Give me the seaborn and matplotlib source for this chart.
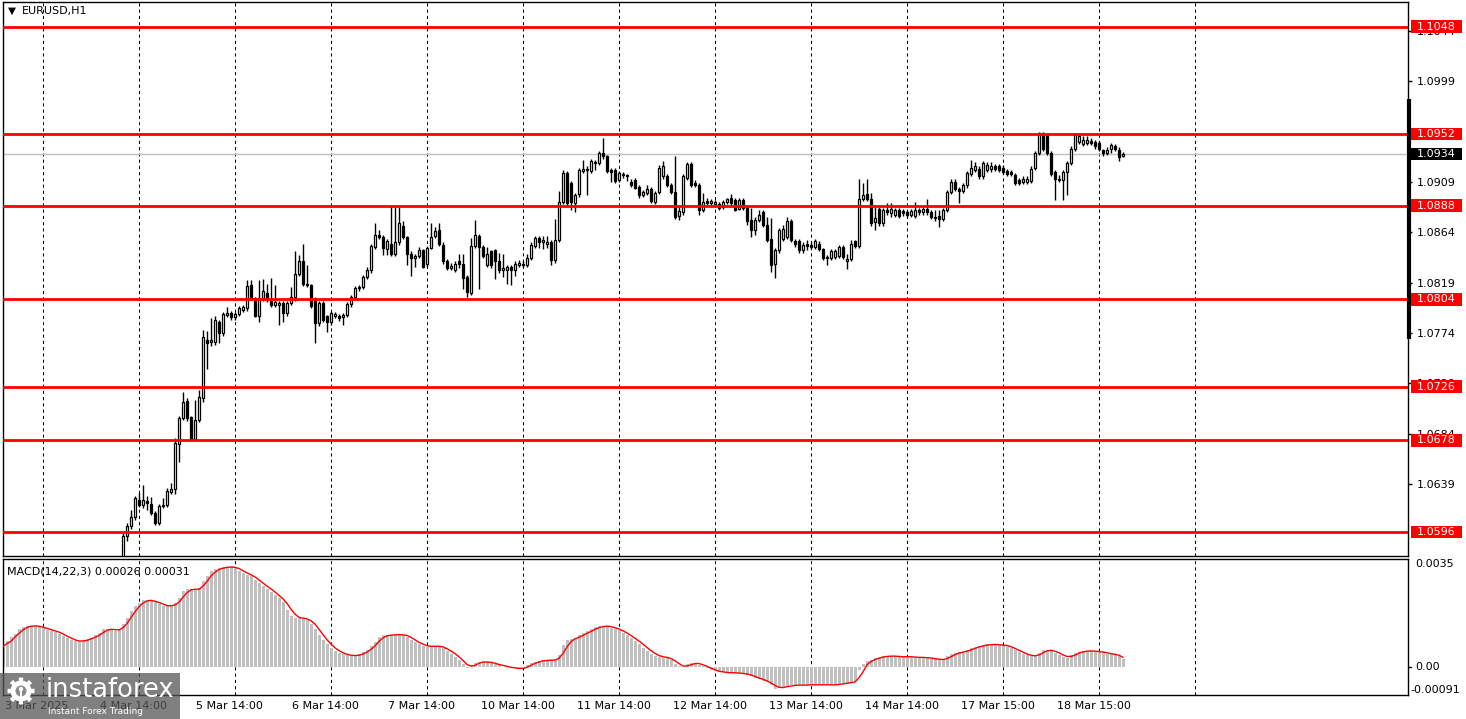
import numpy as np
import matplotlib
matplotlib.use("Agg")
import matplotlib.pyplot as plt
import matplotlib.transforms as mtransforms
from matplotlib.patches import Rectangle, Circle, Polygon
import seaborn as sns

sns.set_style("white")
plt.rcParams['font.family'] = ['DejaVu Sans']

# ------------------------------------------------------------------
# data (prices in 1e-4 units, one candle per hour, first visible bar = 30)
# ------------------------------------------------------------------
first_bar = 30
opens = [
    10555, 10592, 10601, 10609, 10625, 10620, 10624, 10621, 10613, 10604, 10619, 10620,
    10632, 10634, 10675, 10698, 10713, 10699, 10679, 10696, 10716, 10768, 10766, 10766,
    10784, 10774, 10790, 10792, 10788, 10791, 10795, 10796, 10817, 10805, 10789, 10805,
    10810, 10803, 10799, 10799, 10801, 10792, 10801, 10806, 10827, 10838, 10818, 10817,
    10804, 10783, 10801, 10789, 10784, 10789, 10789, 10788, 10790, 10800, 10806, 10814,
    10815, 10824, 10830, 10851, 10862, 10860, 10849, 10854, 10845, 10855, 10870, 10860,
    10845, 10841, 10843, 10848, 10836, 10850, 10861, 10866, 10853, 10838, 10832, 10830,
    10838, 10836, 10824, 10810, 10852, 10861, 10851, 10835, 10847, 10848, 10838, 10830,
    10830, 10833, 10830, 10835, 10836, 10835, 10841, 10852, 10859, 10855, 10854, 10855,
    10839, 10857, 10891, 10917, 10908, 10890, 10898, 10919, 10920, 10919, 10926, 10926,
    10935, 10932, 10920, 10920, 10911, 10915, 10915, 10909, 10911, 10905, 10897, 10899,
    10903, 10891, 10900, 10914, 10914, 10906, 10900, 10879, 10882, 10913, 10925, 10908,
    10906, 10884, 10892, 10890, 10889, 10889, 10887, 10891, 10895, 10893, 10885, 10893,
    10886, 10875, 10866, 10875, 10882, 10871, 10858, 10836, 10848, 10858, 10860, 10874,
    10856, 10856, 10848, 10854, 10853, 10851, 10854, 10849, 10842, 10841, 10842, 10843,
    10851, 10838, 10840, 10856, 10852, 10894, 10898, 10894, 10873, 10885, 10872, 10884,
    10881, 10880, 10884, 10883, 10882, 10880, 10879, 10884, 10882, 10885, 10882, 10878,
    10879, 10876, 10884, 10900, 10909, 10903, 10901, 10906, 10916, 10920, 10921, 10914,
    10920, 10921, 10923, 10923, 10922, 10919, 10918, 10915, 10911, 10909, 10909, 10910,
    10922, 10935, 10953, 10951, 10935, 10918, 10911, 10911, 10918, 10926, 10939, 10945,
    10943, 10944, 10946, 10945, 10944, 10938, 10935, 10939, 10941, 10938, 10932,
]
highs = [
    10595, 10604, 10616, 10628, 10631, 10638, 10628, 10627, 10615, 10621, 10626, 10635,
    10640, 10680, 10700, 10721, 10716, 10700, 10714, 10723, 10777, 10776, 10787, 10789,
    10786, 10793, 10797, 10794, 10793, 10798, 10799, 10821, 10821, 10806, 10821, 10822,
    10818, 10823, 10817, 10803, 10803, 10803, 10815, 10847, 10844, 10854, 10835, 10818,
    10806, 10803, 10803, 10790, 10794, 10793, 10791, 10792, 10802, 10808, 10816, 10817,
    10826, 10833, 10854, 10872, 10866, 10862, 10858, 10888, 10887, 10887, 10874, 10861,
    10847, 10845, 10851, 10849, 10852, 10872, 10869, 10872, 10855, 10840, 10837, 10838,
    10845, 10845, 10826, 10859, 10875, 10863, 10853, 10851, 10848, 10849, 10846, 10845,
    10835, 10835, 10838, 10839, 10838, 10845, 10855, 10861, 10861, 10861, 10861, 10857,
    10876, 10901, 10920, 10919, 10910, 10899, 10922, 10929, 10923, 10930, 10929, 10937,
    10948, 10933, 10922, 10922, 10919, 10918, 10916, 10912, 10913, 10906, 10902, 10906,
    10905, 10901, 10924, 10928, 10916, 10908, 10932, 10888, 10916, 10927, 10927, 10911,
    10908, 10899, 10895, 10894, 10893, 10891, 10893, 10895, 10898, 10895, 10895, 10895,
    10888, 10886, 10878, 10884, 10884, 10878, 10877, 10850, 10868, 10871, 10878, 10876,
    10858, 10858, 10855, 10857, 10855, 10858, 10856, 10850, 10844, 10849, 10849, 10853,
    10853, 10845, 10857, 10857, 10912, 10908, 10912, 10899, 10887, 10887, 10886, 10890,
    10890, 10886, 10886, 10885, 10884, 10885, 10891, 10886, 10887, 10894, 10884, 10884,
    10884, 10886, 10902, 10912, 10912, 10905, 10908, 10919, 10929, 10927, 10923, 10928,
    10927, 10927, 10925, 10925, 10924, 10921, 10920, 10917, 10913, 10914, 10914, 10923,
    10937, 10954, 10954, 10953, 10937, 10920, 10915, 10920, 10928, 10941, 10953, 10952,
    10950, 10950, 10948, 10947, 10946, 10939, 10940, 10944, 10943, 10940, 10936,
]
lows = [
    10550, 10588, 10599, 10607, 10618, 10617, 10616, 10611, 10602, 10602, 10617, 10618,
    10630, 10630, 10659, 10696, 10695, 10677, 10677, 10694, 10712, 10742, 10762, 10763,
    10765, 10771, 10788, 10786, 10786, 10789, 10793, 10794, 10804, 10788, 10784, 10803,
    10802, 10797, 10797, 10781, 10784, 10789, 10799, 10803, 10825, 10816, 10815, 10796,
    10765, 10780, 10784, 10775, 10781, 10787, 10785, 10781, 10788, 10797, 10804, 10812,
    10813, 10822, 10828, 10849, 10858, 10844, 10844, 10843, 10843, 10853, 10858, 10835,
    10825, 10833, 10841, 10832, 10833, 10849, 10859, 10852, 10836, 10830, 10830, 10829,
    10832, 10813, 10806, 10808, 10850, 10813, 10841, 10833, 10832, 10822, 10828, 10824,
    10818, 10817, 10825, 10833, 10833, 10833, 10839, 10850, 10850, 10849, 10850, 10835,
    10837, 10855, 10889, 10888, 10884, 10882, 10896, 10917, 10897, 10917, 10920, 10924,
    10930, 10917, 10909, 10908, 10909, 10913, 10910, 10905, 10903, 10895, 10896, 10897,
    10890, 10889, 10898, 10912, 10905, 10898, 10876, 10875, 10880, 10911, 10905, 10905,
    10880, 10882, 10888, 10888, 10887, 10884, 10885, 10889, 10888, 10883, 10884, 10884,
    10871, 10860, 10862, 10873, 10869, 10855, 10829, 10823, 10846, 10856, 10858, 10855,
    10851, 10846, 10846, 10848, 10849, 10849, 10847, 10839, 10835, 10839, 10840, 10841,
    10840, 10831, 10838, 10850, 10850, 10892, 10892, 10870, 10866, 10870, 10870, 10880,
    10878, 10878, 10877, 10879, 10878, 10878, 10877, 10880, 10880, 10880, 10876, 10874,
    10869, 10874, 10882, 10898, 10901, 10890, 10899, 10904, 10914, 10918, 10912, 10912,
    10918, 10918, 10919, 10918, 10916, 10914, 10914, 10906, 10906, 10907, 10907, 10908,
    10920, 10933, 10937, 10933, 10914, 10893, 10909, 10893, 10897, 10924, 10937, 10943,
    10941, 10942, 10942, 10939, 10937, 10932, 10933, 10935, 10937, 10928, 10931,
]
closes = [
    10592, 10601, 10609, 10626, 10620, 10625, 10622, 10613, 10604, 10619, 10620, 10633,
    10634, 10676, 10698, 10712, 10698, 10679, 10696, 10717, 10770, 10765, 10768, 10786,
    10774, 10791, 10792, 10788, 10791, 10796, 10797, 10816, 10806, 10789, 10805, 10812,
    10804, 10799, 10802, 10801, 10792, 10801, 10806, 10827, 10838, 10818, 10817, 10798,
    10783, 10801, 10786, 10784, 10792, 10791, 10787, 10790, 10800, 10806, 10814, 10815,
    10824, 10830, 10852, 10862, 10860, 10850, 10856, 10845, 10855, 10872, 10860, 10845,
    10841, 10843, 10848, 10833, 10850, 10860, 10865, 10854, 10838, 10832, 10834, 10836,
    10836, 10823, 10811, 10852, 10862, 10851, 10843, 10845, 10835, 10838, 10830, 10832,
    10833, 10830, 10836, 10837, 10835, 10841, 10853, 10859, 10855, 10857, 10855, 10839,
    10857, 10891, 10917, 10890, 10891, 10897, 10920, 10921, 10921, 10928, 10927, 10935,
    10932, 10919, 10918, 10910, 10917, 10916, 10914, 10906, 10904, 10897, 10900, 10903,
    10892, 10899, 10922, 10923, 10906, 10900, 10878, 10883, 10914, 10925, 10906, 10906,
    10884, 10891, 10890, 10892, 10891, 10886, 10891, 10894, 10890, 10884, 10893, 10886,
    10874, 10866, 10875, 10880, 10871, 10857, 10835, 10848, 10866, 10867, 10874, 10857,
    10854, 10848, 10853, 10852, 10851, 10856, 10849, 10841, 10841, 10847, 10847, 10851,
    10842, 10840, 10854, 10852, 10894, 10897, 10894, 10872, 10877, 10872, 10884, 10882,
    10885, 10884, 10879, 10881, 10880, 10883, 10884, 10882, 10885, 10882, 10878, 10877,
    10876, 10884, 10900, 10909, 10903, 10901, 10906, 10917, 10922, 10923, 10914, 10926,
    10924, 10923, 10921, 10920, 10918, 10916, 10916, 10908, 10908, 10912, 10912, 10921,
    10935, 10953, 10939, 10935, 10916, 10912, 10912, 10918, 10926, 10939, 10951, 10950,
    10947, 10947, 10944, 10941, 10939, 10935, 10938, 10942, 10939, 10931, 10934,
]

# MACD(14,22,3) main (histogram) and signal, 1e-5 units, bars 0..280
macd_main = [
    66, 85, 98, 108, 122, 130, 133, 134, 132, 130, 125, 121, 118, 113, 107, 100, 94, 88, 83, 82,
    86, 91, 95, 102, 110, 122, 124, 121, 118, 122, 140, 160, 180, 198, 208, 216, 217, 214, 209, 203,
    199, 196, 198, 208, 225, 245, 254, 252, 249, 256, 280, 295, 310, 316, 321, 324, 325, 324, 320, 312,
    304, 299, 294, 282, 271, 262, 254, 243, 232, 222, 210, 186, 166, 160, 158, 157, 152, 140, 124, 102,
    88, 73, 62, 51, 45, 41, 38, 36, 38, 41, 47, 55, 68, 82, 98, 103, 103, 104, 105, 105,
    103, 97, 88, 80, 73, 68, 65, 67, 69, 65, 60, 52, 43, 33, 22, 8, -5, 6, 13, 17,
    17, 15, 12, 8, 5, 1, -1, -3, -5, -7, -3, 6, 12, 17, 20, 22, 22, 21, 23, 40,
    70, 86, 91, 95, 102, 109, 115, 122, 128, 132, 134, 131, 127, 123, 119, 110, 102, 94, 84, 74,
    63, 52, 43, 36, 32, 30, 30, 22, 8, 2, 0, 8, 14, 12, 7, 3, -4, -10, -14, -17,
    -18, -19, -19, -20, -21, -22, -26, -31, -36, -40, -45, -50, -60, -70, -67, -64, -62, -60, -59, -59,
    -59, -58, -58, -59, -58, -57, -58, -59, -57, -55, -52, -51, -49, -47, -10, 10, 20, 24, 28, 32,
    35, 36, 35, 34, 33, 33, 33, 32, 31, 31, 30, 29, 27, 25, 23, 25, 34, 41, 45, 48,
    50, 54, 60, 65, 69, 71, 73, 73, 72, 71, 70, 66, 61, 54, 47, 42, 38, 34, 36, 46,
    55, 55, 53, 46, 39, 33, 30, 38, 46, 50, 52, 52, 51, 50, 49, 46, 43, 41, 39, 34,
    26,
]
macd_signal = [
    66, 76, 83, 97, 109, 120, 128, 132, 133, 132, 129, 125, 121, 117, 113, 107, 100, 94, 88, 84,
    84, 86, 91, 96, 102, 111, 119, 122, 121, 120, 127, 141, 160, 179, 195, 207, 214, 216, 213, 209,
    204, 199, 198, 201, 210, 226, 241, 250, 252, 252, 262, 277, 295, 307, 316, 320, 323, 324, 323, 319,
    312, 305, 299, 292, 282, 272, 262, 253, 243, 232, 221, 206, 187, 171, 161, 158, 156, 150, 139, 122,
    105, 88, 74, 62, 53, 46, 41, 38, 37, 38, 42, 48, 57, 68, 83, 94, 101, 103, 104, 105,
    104, 102, 96, 88, 80, 74, 69, 67, 67, 67, 65, 59, 52, 43, 33, 21, 8, 3, 5, 12,
    16, 16, 15, 12, 8, 5, 2, -1, -3, -5, -5, -1, 5, 12, 16, 20, 21, 22, 22, 28,
    44, 65, 82, 91, 96, 102, 109, 115, 122, 127, 131, 132, 131, 127, 123, 117, 110, 102, 93, 84,
    74, 63, 53, 44, 37, 33, 31, 27, 20, 11, 3, 3, 7, 11, 11, 7, 2, -4, -9, -14,
    -16, -18, -19, -19, -20, -21, -23, -26, -31, -36, -40, -45, -52, -60, -66, -67, -64, -62, -60, -59,
    -59, -59, -58, -58, -58, -58, -58, -58, -58, -57, -55, -53, -51, -49, -35, -16, 7, 18, 24, 28,
    32, 34, 35, 35, 34, 33, 33, 33, 32, 31, 31, 30, 29, 27, 25, 24, 27, 33, 40, 45,
    48, 51, 55, 60, 65, 68, 71, 72, 73, 72, 71, 69, 66, 60, 54, 48, 42, 38, 36, 39,
    46, 52, 54, 51, 46, 39, 34, 34, 38, 45, 49, 51, 52, 51, 50, 48, 46, 43, 41, 38,
    31,
]

levels = [1.1048, 1.0952, 1.0888, 1.0804, 1.0726, 1.0678, 1.0596]
price_ticks = [1.1044, 1.0999, 1.0909, 1.0864, 1.0819, 1.0774,
               1.0729, 1.0684, 1.0639]
last_price = 1.0934
grid_bars = [10, 34, 58, 82, 106, 130, 154, 178, 202, 226, 250, 274, 298]
date_labels = ["3 Mar 2025", "4 Mar 14:00", "5 Mar 14:00", "6 Mar 14:00", "7 Mar 14:00",
               "10 Mar 14:00", "11 Mar 14:00", "12 Mar 14:00", "13 Mar 14:00",
               "14 Mar 14:00", "17 Mar 15:00", "18 Mar 15:00"]

# ------------------------------------------------------------------
# layout in pixels
# ------------------------------------------------------------------
W, H = 1466, 719
fig = plt.figure(figsize=(W / 100, H / 100), dpi=100)
fig.patch.set_facecolor("white")
ax = fig.add_axes([3 / W, 1 - 556 / H, 1405 / W, 554 / H])
ax2 = fig.add_axes([3 / W, 1 - 695 / H, 1405 / W, 136 / H])

xmax = 1405 / 4
for a in (ax, ax2):
    a.set_xlim(0, xmax)
    a.set_facecolor("white")
    for s in a.spines.values():
        s.set_color("black")
        s.set_linewidth(1)
    for b in grid_bars:
        a.axvline(b, color="black", lw=0.75, ls=(0, (3, 3)), zorder=0.5)

ax.set_ylim(1.05745, 1.10701)
ax2.set_ylim(-0.00091, 0.0035)

# ------------------------------------------------------------------
# candles
# ------------------------------------------------------------------
o = np.array(opens) / 1e4
h = np.array(highs) / 1e4
l = np.array(lows) / 1e4
c = np.array(closes) / 1e4
xs = np.arange(first_bar, first_bar + len(o))
ax.vlines(xs, np.minimum(l, np.minimum(o, c)), np.maximum(h, np.maximum(o, c)),
          color="black", lw=1, zorder=2)
body_lo = np.minimum(o, c)
body_h = np.maximum(np.abs(c - o), 0.00008)
face = np.where(c >= o, "white", "black")
ax.bar(xs, body_h, bottom=body_lo, width=0.6, color=face, edgecolor="black",
       linewidth=0.9, zorder=3)

for lvl in levels:
    ax.axhline(lvl, color="#ff0000", lw=2, zorder=4)
ax.axhline(last_price, color="#c0c0c0", lw=1, zorder=1)

ax.set_xticks([])
ax.yaxis.tick_right()
ax.set_yticks(price_ticks)
ax.set_yticklabels([f"{v:.4f}" for v in price_ticks])
ax.tick_params(axis="y", direction="out", length=3, width=1, pad=3,
               labelsize=8, colors="black")

trans = mtransforms.blended_transform_factory(ax.transAxes, ax.transData)
box_h = 12.7 * (1.10701 - 1.05745) / 554
bx0 = (1411 - 3) / 1405
bw = 51 / 1405
for lvl in levels:
    ax.add_patch(Rectangle((bx0, lvl - box_h / 2), bw, box_h, transform=trans,
                           facecolor="#ff0000", edgecolor="none", clip_on=False, zorder=6))
    ax.text(bx0 + bw / 2, lvl, f"{lvl:.4f}", transform=trans, ha="center", va="center",
            color="white", fontsize=8, zorder=7, clip_on=False)
ax.add_patch(Rectangle((bx0, last_price - box_h / 2), bw, box_h, transform=trans,
                       facecolor="black", edgecolor="none", clip_on=False, zorder=6))
ax.text(bx0 + bw / 2, last_price, f"{last_price:.4f}", transform=trans, ha="center",
        va="center", color="white", fontsize=8, zorder=7, clip_on=False)
# price scale marker on the right edge
ax.plot([1 + 1 / 1405, 1 + 1 / 1405], [1.07686, 1.09833], transform=trans,
        color="black", lw=3, solid_capstyle="butt", clip_on=False, zorder=5)

ax.text(5 / 1405, 1 - 9 / 554, "\u25bc", transform=ax.transAxes, fontsize=7.5,
        ha="left", va="center", color="black")
ax.text(19 / 1405, 1 - 9 / 554, "EURUSD,H1", transform=ax.transAxes, fontsize=8,
        ha="left", va="center", color="black")

# ------------------------------------------------------------------
# MACD panel
# ------------------------------------------------------------------
mx = np.arange(len(macd_main))
hist = np.array(macd_main) / 1e5
sig = np.array(macd_signal) / 1e5
ax2.bar(mx, hist, width=0.75, color="#c0c0c0", linewidth=0, zorder=2)
sns.lineplot(x=mx, y=sig, ax=ax2, color="#ff0000", linewidth=1, zorder=3, legend=False)
ax2.set_ylabel("")
ax2.set_xticks(grid_bars)
ax2.set_xticklabels([])
ax2.tick_params(axis="x", direction="out", length=4, width=0.8, colors="black")
ax2.set_yticks([])

ax2.text(4 / 1405, 1 - 13 / 136, "MACD(14,22,3) 0.00026 0.00031", transform=ax2.transAxes,
         fontsize=8, ha="left", va="center", color="black")
t2 = mtransforms.blended_transform_factory(ax2.transAxes, ax2.transData)
ax2.text(1 + 7 / 1405, 0.0035, "0.0035", transform=t2, ha="left", va="top",
         fontsize=8, color="black", clip_on=False)
ax2.text(1 + 7 / 1405, 0.0, "0.00", transform=t2, ha="left", va="center",
         fontsize=8, color="black", clip_on=False)
ax2.text(1 + 2 / 1405, -0.00091, "-0.00091", transform=t2, ha="left", va="bottom",
         fontsize=8, color="black", clip_on=False)
ax2.plot([1, 1 + 3 / 1405], [0.0, 0.0], transform=t2, color="black", lw=1, clip_on=False)

# time labels
tx = mtransforms.blended_transform_factory(ax2.transData, ax2.transAxes)
ylab = -11 / 136
ax2.text(0.5, ylab, date_labels[0], transform=tx, ha="left", va="center",
         fontsize=8, color="black", clip_on=False)
for b, lab in zip(grid_bars[1:], date_labels[1:]):
    ax2.text(b - 1.3, ylab, lab, transform=tx, ha="center", va="center",
             fontsize=8, color="black", clip_on=False)

# ------------------------------------------------------------------
# watermark logo bottom-left
# ------------------------------------------------------------------
lg = fig.add_axes([0, 0, 180 / W, 46 / H])
lg.set_xlim(0, 180)
lg.set_ylim(0, 46)
lg.axis("off")
lg.add_patch(Rectangle((0, 0), 180, 46, facecolor="#555555", alpha=0.75, edgecolor="none"))
theta = np.linspace(0, 2 * np.pi, 720)
rad = 10.5 + 3.0 * (np.cos(8 * theta) > 0.1)
lg.add_patch(Polygon(np.column_stack([21 + rad * np.cos(theta), 28 + rad * np.sin(theta)]),
                     closed=True, facecolor="white", edgecolor="none"))
lg.add_patch(Circle((21, 28), 5.5, facecolor="#8a8a8a", edgecolor="none"))
lg.add_patch(Circle((21, 30), 2.2, facecolor="white", edgecolor="none"))
lg.add_patch(Rectangle((19.6, 17), 2.8, 11, facecolor="white", edgecolor="none"))
lg.text(46, 29, "instaforex", fontsize=18.5, color="white", ha="left", va="center")
lg.text(48, 8, "Instant Forex Trading", fontsize=6.5, color="white", ha="left", va="center")

fig.savefig("out.png", dpi=100)
